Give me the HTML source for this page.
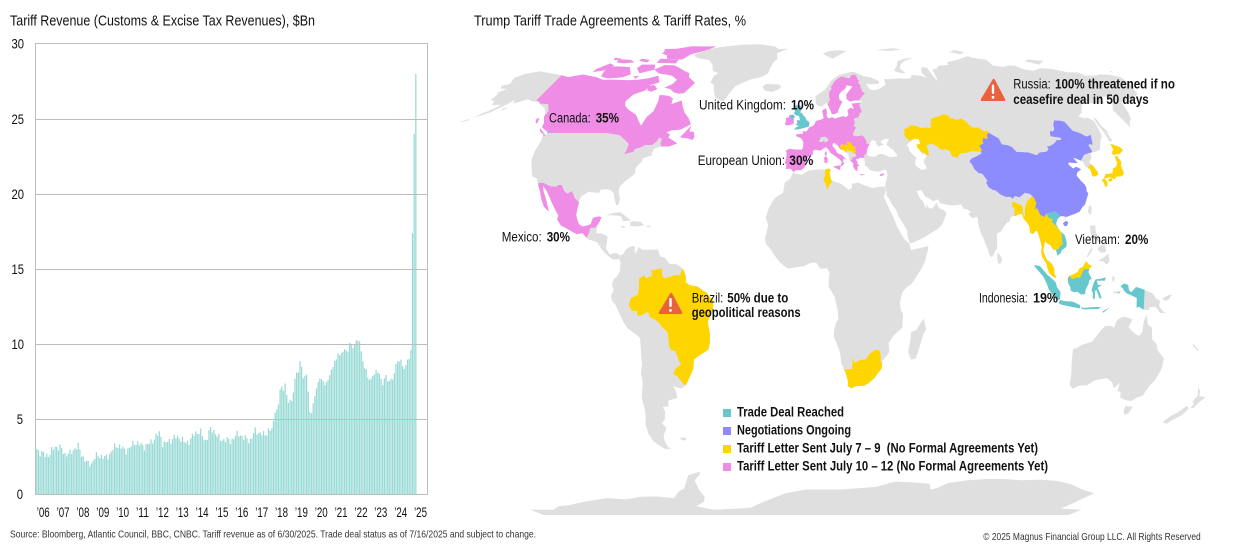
<!DOCTYPE html>
<html><head><meta charset="utf-8">
<style>
html,body{margin:0;padding:0;background:#fff;}
svg{display:block;}
text{font-family:"Liberation Sans Narrow","Liberation Sans",Arial,sans-serif;fill:#111;}
.b{font-weight:bold;}
.ax{fill:#333;font-size:14px;}
.ml{font-size:13.5px;}
.ft{fill:#333;font-size:10.5px;}
</style></head><body>
<svg id="s" width="1234" height="547" viewBox="0 0 1234 547" xmlns="http://www.w3.org/2000/svg">
<defs>
<clipPath id="mapclip"><rect x="460" y="30" width="774" height="485"/></clipPath>
<clipPath id="land"></clipPath>
</defs>
<rect width="1234" height="547" fill="#fff"/>

<!-- LEFT CHART -->
<text x="10" y="25.5" font-size="15" textLength="305" lengthAdjust="spacingAndGlyphs">Tariff Revenue (Customs &amp; Excise Tax Revenues), $Bn</text>
<g id="bars" fill="#98dad5"></g>
<g stroke="#bdbdbd" stroke-width="1" fill="none">
<line x1="35.5" y1="419.5" x2="427.5" y2="419.5"/>
<line x1="35.5" y1="344.5" x2="427.5" y2="344.5"/>
<line x1="35.5" y1="269.5" x2="427.5" y2="269.5"/>
<line x1="35.5" y1="194.5" x2="427.5" y2="194.5"/>
<line x1="35.5" y1="119.5" x2="427.5" y2="119.5"/>
<rect x="35.5" y="43.5" width="392" height="451"/>
</g>
<g class="ax" text-anchor="end">
<text x="24" y="48.5" textLength="12.5" lengthAdjust="spacingAndGlyphs">30</text>
<text x="24" y="124" textLength="12.5" lengthAdjust="spacingAndGlyphs">25</text>
<text x="24" y="199" textLength="12.5" lengthAdjust="spacingAndGlyphs">20</text>
<text x="24" y="274" textLength="12.5" lengthAdjust="spacingAndGlyphs">15</text>
<text x="24" y="349" textLength="12.5" lengthAdjust="spacingAndGlyphs">10</text>
<text x="23" y="424" textLength="6.3" lengthAdjust="spacingAndGlyphs">5</text>
<text x="23" y="499" textLength="6.3" lengthAdjust="spacingAndGlyphs">0</text>
</g>
<g class="ax" text-anchor="middle">
<text x="43.2" y="517" textLength="13" lengthAdjust="spacingAndGlyphs">’06</text>
<text x="63.1" y="517" textLength="13" lengthAdjust="spacingAndGlyphs">’07</text>
<text x="82.9" y="517" textLength="13" lengthAdjust="spacingAndGlyphs">’08</text>
<text x="102.8" y="517" textLength="13" lengthAdjust="spacingAndGlyphs">’09</text>
<text x="122.6" y="517" textLength="13" lengthAdjust="spacingAndGlyphs">’10</text>
<text x="142.5" y="517" textLength="13" lengthAdjust="spacingAndGlyphs">’11</text>
<text x="162.4" y="517" textLength="13" lengthAdjust="spacingAndGlyphs">’12</text>
<text x="182.2" y="517" textLength="13" lengthAdjust="spacingAndGlyphs">’13</text>
<text x="202.1" y="517" textLength="13" lengthAdjust="spacingAndGlyphs">’14</text>
<text x="221.9" y="517" textLength="13" lengthAdjust="spacingAndGlyphs">’15</text>
<text x="241.8" y="517" textLength="13" lengthAdjust="spacingAndGlyphs">’16</text>
<text x="261.7" y="517" textLength="13" lengthAdjust="spacingAndGlyphs">’17</text>
<text x="281.5" y="517" textLength="13" lengthAdjust="spacingAndGlyphs">’18</text>
<text x="301.4" y="517" textLength="13" lengthAdjust="spacingAndGlyphs">’19</text>
<text x="321.2" y="517" textLength="13" lengthAdjust="spacingAndGlyphs">’20</text>
<text x="341.1" y="517" textLength="13" lengthAdjust="spacingAndGlyphs">’21</text>
<text x="361" y="517" textLength="13" lengthAdjust="spacingAndGlyphs">’22</text>
<text x="380.8" y="517" textLength="13" lengthAdjust="spacingAndGlyphs">’23</text>
<text x="400.7" y="517" textLength="13" lengthAdjust="spacingAndGlyphs">’24</text>
<text x="420.5" y="517" textLength="13" lengthAdjust="spacingAndGlyphs">’25</text>
</g>

<!-- MAP -->
<text x="474" y="25.5" font-size="15" textLength="272" lengthAdjust="spacingAndGlyphs">Trump Tariff Trade Agreements &amp; Tariff Rates, %</text>
<g clip-path="url(#mapclip)">
<g id="gland" fill="#dfdfdf"></g>
<g id="gover" clip-path="url(#land)"></g>
<g id="gwater" fill="#ffffff"></g>
</g>

<!-- map labels -->
<g class="ml">
<text x="549" y="122.5" textLength="41.7" lengthAdjust="spacingAndGlyphs">Canada:</text>
<text x="595.7" y="122.5" class="b" textLength="23.3" lengthAdjust="spacingAndGlyphs">35%</text>
<text x="699" y="109.3" textLength="87" lengthAdjust="spacingAndGlyphs">United Kingdom:</text>
<text x="791" y="109.3" class="b" textLength="23" lengthAdjust="spacingAndGlyphs">10%</text>
<text x="697.7" y="165" textLength="87.3" lengthAdjust="spacingAndGlyphs">European Union:</text>
<text x="789.3" y="165" class="b" textLength="24" lengthAdjust="spacingAndGlyphs">30%</text>
<text x="501.7" y="241.7" textLength="40" lengthAdjust="spacingAndGlyphs">Mexico:</text>
<text x="546.7" y="241.7" class="b" textLength="23.3" lengthAdjust="spacingAndGlyphs">30%</text>
<text x="1013.3" y="88.3" textLength="37.4" lengthAdjust="spacingAndGlyphs">Russia:</text>
<text x="1055" y="88.3" class="b" textLength="120" lengthAdjust="spacingAndGlyphs">100% threatened if no</text>
<text x="1013.3" y="103.8" class="b" textLength="135.4" lengthAdjust="spacingAndGlyphs">ceasefire deal in 50 days</text>
<text x="1075" y="244" textLength="45" lengthAdjust="spacingAndGlyphs">Vietnam:</text>
<text x="1125" y="244" class="b" textLength="23.3" lengthAdjust="spacingAndGlyphs">20%</text>
<text x="979" y="302.7" textLength="48.7" lengthAdjust="spacingAndGlyphs">Indonesia:</text>
<text x="1033" y="302.7" class="b" textLength="25" lengthAdjust="spacingAndGlyphs">19%</text>
<text x="691.7" y="302.3" textLength="31.6" lengthAdjust="spacingAndGlyphs">Brazil:</text>
<text x="727.3" y="302.3" class="b" textLength="61" lengthAdjust="spacingAndGlyphs">50% due to</text>
<text x="691.7" y="317" class="b" textLength="109" lengthAdjust="spacingAndGlyphs">geopolitical reasons</text>
</g>

<!-- warning icons -->
<g>
<path d="M993 79 Q994 78 995 80 L1005 99 Q1006 101 1004 101 L982 101 Q980 101 981 99 Z" fill="#e8623e"/>
<rect x="991.8" y="84.5" width="2.4" height="9.5" rx="1" fill="#fff"/>
<circle cx="993" cy="97.3" r="1.4" fill="#fff"/>
<path d="M670.5 293 Q671.5 292 672.5 294 L682 312 Q683 314 681 314 L660 314 Q658 314 659 312 Z" fill="#e8623e"/>
<rect x="669.3" y="298" width="2.4" height="9" rx="1" fill="#fff"/>
<circle cx="670.5" cy="310.4" r="1.4" fill="#fff"/>
</g>

<!-- legend -->
<g class="ml b">
<rect x="723" y="409" width="8" height="8" fill="#66c8cc"/>
<text x="737" y="416.5" textLength="107" lengthAdjust="spacingAndGlyphs">Trade Deal Reached</text>
<rect x="723" y="427" width="8" height="8" fill="#8c8cff"/>
<text x="737" y="434.3" textLength="114" lengthAdjust="spacingAndGlyphs">Negotiations Ongoing</text>
<rect x="723" y="445" width="8" height="8" fill="#ffd500"/>
<text x="737" y="452.5" textLength="301" lengthAdjust="spacingAndGlyphs" xml:space="preserve">Tariff Letter Sent July 7 – 9  (No Formal Agreements Yet)</text>
<rect x="723" y="463" width="8" height="8" fill="#ee8ce6"/>
<text x="737" y="470.5" textLength="311" lengthAdjust="spacingAndGlyphs">Tariff Letter Sent July 10 – 12 (No Formal Agreements Yet)</text>
</g>

<!-- footer -->
<text class="ft" x="10" y="537.5" textLength="526" lengthAdjust="spacingAndGlyphs">Source: Bloomberg, Atlantic Council, BBC, CNBC. Tariff revenue as of 6/30/2025. Trade deal status as of 7/16/2025 and subject to change.</text>
<text class="ft" x="983.3" y="540" textLength="217.4" lengthAdjust="spacingAndGlyphs">© 2025 Magnus Financial Group LLC. All Rights Reserved</text>
</svg>

<script>
(function(){
/* ---------- BARS ---------- */
var K=[36,3.1,40,2.8,45,2.6,50,2.7,55,3.2,60,3.1,65,2.7,70,2.7,75,3.1,78,3.2,82,2.6,85,2.3,88,2.0,92,2.1,95,2.5,100,2.6,105,2.4,110,2.7,113,3.0,117,3.3,120,3.2,125,2.9,130,3.1,135,3.5,140,3.3,145,3.2,150,3.4,155,3.8,160,4.1,163,3.3,170,3.6,175,3.8,180,3.8,185,3.4,190,3.6,195,4.1,200,4.2,205,3.5,210,4.3,215,4.2,220,3.6,225,3.7,230,3.5,235,3.9,240,4.0,245,3.7,250,3.6,255,4.2,260,4.1,265,3.9,268,4.3,272,4.3,
274,5.1,276,5.7,278,5.6,279,6.5,281,7.4,283,6.8,285,7.4,287,6.5,289,5.9,290,6.3,292,6.2,293,6.6,295,7.7,297,8.2,298,8.0,300,8.9,302,8.4,303,7.7,305,7.9,307,8.0,309,6.1,310,5.4,312,5.4,313,6.0,315,6.6,317,7.2,319,7.7,321,7.7,322,7.6,324,7.5,325,7.2,327,7.6,329,7.6,331,8.5,332,8.0,334,8.9,336,8.9,338,9.4,339,9.2,341,9.4,343,9.5,345,9.7,347,9.5,349,9.5,350,10.5,352,9.6,354,9.9,356,10.3,357,10.1,359,10.4,361,9.6,363,8.8,364,8.4,366,8.4,367,7.9,369,7.6,371,7.7,373,7.9,374,7.9,376,8.3,377,8.1,379,8.1,381,7.7,383,7.2,385,8.0,387,7.9,388,7.3,390,7.7,392,7.7,393,7.6,396,8.7,398,8.9,400,8.8,401,9.0,403,8.4,405,8.3,407,9.0,409,8.9,410,9.6,420,9.6];
function kv(x){for(var j=0;j<K.length-2;j+=2){if(x<=K[j+2]){var t=(x-K[j])/(K[j+2]-K[j]);t=Math.max(0,Math.min(1,t));return K[j+1]+(K[j+3]-K[j+1])*t;}}return K[K.length-1];}
var s='',N=230;
for(var i=0;i<N;i++){var x=36.2+i*1.655;var v=kv(x+0.6);if(x<272)v+=0.18*Math.sin(i*2.3)+0.12*Math.sin(i*5.1);
if(i==N-1)v=28;else if(i==N-2)v=24;else if(i==N-3)v=17.4;
var h=v*15.01;s+='<rect x="'+x.toFixed(2)+'" y="'+(494.3-h).toFixed(2)+'" width="1.25" height="'+h.toFixed(2)+'"/>';}
document.getElementById('bars').innerHTML=s;

/* ---------- MAP ---------- */
var PL=[1,.9986,.9954,.99,.9822,.973,.96,.9427,.9216,.8962,.8679,.835,.7986,.7597,.7186,.6732,.6213,.5722,.5322];
var PY=[0,.062,.124,.186,.248,.31,.372,.434,.4958,.5571,.6176,.6769,.7346,.7903,.8435,.8936,.9394,.9761,1];
function it(t,a){a=Math.min(Math.abs(a),90);var k=Math.floor(a/5);if(k>=18)return t[18];var f=(a-5*k)/5;return t[k]+(t[k+1]-t[k])*f;}
function pr(lon,lat){return [806+2.404*it(PL,lat)*lon,282-246*it(PY,lat)*(lat<0?-1:1)];}
function sa(p){var lon=p[0],lat=p[1];if(lon>-45&&lat>-25&&lat<8){var f=lat>-13?0.62:0.62+(-13-lat)/12*0.38;lon=-45+(lon+45)*f;}return [lon,lat];}
function D(pts,adj){return 'M'+pts.map(function(p){if(adj)p=sa(p);var q=pr(p[0],p[1]);return q[0].toFixed(1)+' '+q[1].toFixed(1);}).join('L')+'Z';}

var NA=[[-166,68.9],[-163,70.3],[-156.5,71.3],[-152,70.8],[-145,70.1],[-141,69.7],[-136,69],[-129,70],[-125,69.5],[-120,69],[-115,68],[-108,68],[-100,67.8],[-95,68],[-90,68.5],[-85,69.5],[-82,67],[-86,66],[-87,64],[-92,62.5],[-94,60],[-93,58.5],[-90,57],[-85,55.3],[-82,53],[-80,51.5],[-79,54.5],[-77,56.5],[-77,60],[-78,62.3],[-73,62],[-70,61],[-69.5,59],[-65,60.3],[-63,58],[-61,56],[-58,54],[-56,52],[-60,50.2],[-64.5,49.9],[-66.5,49.2],[-64.5,48.5],[-65,47.5],[-61,46],[-60,45.5],[-63.5,44.5],[-66,44.5],[-67,44.5],[-70,43.8],[-70.5,42],[-70,41.6],[-74,40.5],[-74,39.5],[-75.5,38],[-76,37],[-75.6,35.5],[-77,34.5],[-79,33.2],[-81,31.5],[-81.2,30],[-80,27],[-80.3,25.3],[-81.2,25.2],[-82.5,27.5],[-83,29],[-84.5,30],[-86,30.4],[-89,30.3],[-89.5,29.2],[-91,29.3],[-94,29.6],[-97,28],[-97.3,26],[-97.5,24.5],[-97.7,22],[-97,20.5],[-96,19],[-94.5,18.2],[-92,18.6],[-91,19],[-90.4,21],[-88,21.5],[-86.8,21.2],[-87.5,19.5],[-88.3,18.5],[-88.2,16],[-86,15.9],[-83.3,15],[-83.5,12.5],[-83.7,11],[-82,9],[-79.5,9.6],[-77.4,8.7],[-78,7.5],[-80,7.3],[-81.7,8],[-84,9.5],[-85.7,11],[-87.5,13],[-89.5,13.5],[-91.5,14],[-92.2,14.5],[-94,16],[-96.5,15.7],[-99,16.7],[-101.5,17.8],[-103.5,18.5],[-105.5,20.5],[-105.2,21.8],[-106.5,23.2],[-108.5,25.5],[-110.5,27.8],[-112.5,30],[-114.7,31.6],[-113.5,29.5],[-112,27.5],[-110,24],[-109.5,23.1],[-110.3,23.5],[-112.1,24.8],[-114,27.5],[-115,29.5],[-116.6,31.5],[-117.1,32.5],[-118.5,34],[-120.6,34.6],[-122.5,37.5],[-124,40.3],[-124.4,43],[-124,46.3],[-124.7,48.4],[-123,48.3],[-123.5,49.5],[-125,50],[-127.5,51],[-128,52.5],[-130,54.5],[-130.5,55.5],[-133,57.5],[-136,58.5],[-139.5,59.8],[-143,60],[-146,60.8],[-149,59.8],[-151.5,59.3],[-152.5,60.5],[-154,59],[-156.5,57.5],[-159,56],[-162,55],[-164.8,54.4],[-161,56.3],[-158,57.9],[-157.3,58.8],[-161.8,58.7],[-162.3,60],[-165,60.5],[-164.5,62.5],[-166,63],[-163,64.5],[-166.5,64.7],[-168.1,65.6],[-164.5,66.5],[-166,68]];
var GRL=[[-73,78.3],[-66,81],[-60,82],[-45,83.5],[-32,83.6],[-22,82.5],[-18,81],[-12,81.3],[-19,79],[-18,76.5],[-20,75],[-21.5,72.5],[-22,70.5],[-25,69.2],[-32,68],[-39,65.5],[-41,63],[-43,60],[-45,60.3],[-48,61.5],[-50,64],[-51,66],[-53.5,67],[-53,69.5],[-51,70.5],[-55,71.5],[-57,74],[-61,76],[-67,76.5],[-71,77.4]];
var ICE=[[-22.5,64],[-24,65.4],[-22,66.4],[-18,66.2],[-15,66.3],[-13.5,65.2],[-15,64.3],[-18.5,63.4],[-21.5,63.8]];
var CANISL=[
[[-80,73.7],[-76,72.7],[-72,71.5],[-68,70.5],[-67,69],[-62,66.8],[-63.5,65],[-65.5,63],[-68,62.8],[-71,63.2],[-74,64.5],[-77.5,65],[-74,66.5],[-73,68],[-77,69.5],[-81,70],[-86,70.5],[-90,72],[-86,73.8]],
[[-118,73],[-114,73.3],[-106,73],[-101.5,70],[-105,68.9],[-113,68.5],[-117.5,69.2],[-119,71.5]],
[[-125,72.2],[-120,74.5],[-116,73.5],[-120,71.5],[-125,71]],
[[-92,80.5],[-80,82.5],[-62,82.5],[-68,80],[-75,78.5],[-78,76.2],[-88,76.5],[-90,78],[-95,79]],
[[-92,76.5],[-80,76.2],[-80,74.5],[-92,74.8]],
[[-118,76.3],[-110,76],[-106,75],[-112,74.5],[-117,75]],
[[-104,76.5],[-98,76],[-98,75],[-104,75.5]],
[[-122,77],[-116,76.5],[-120,75.8]],
[[-100,74],[-92,74],[-90,72],[-97,70.5],[-101,72.5]],
[[-87,65.5],[-84,66],[-81,64.5],[-83.5,63.5],[-86,64]],
[[-96,81],[-86,81.2],[-86,78.5],[-93,78.5]],
[[-99,69.3],[-96,69.5],[-97,68.3]],
[[-59.4,47.6],[-55.5,51.6],[-55.8,49.5],[-53.5,49.4],[-52.7,47.6],[-53.2,46.7],[-55.8,47.2],[-59,47.5]],
[[-128.4,50.8],[-123.5,48.3],[-124.8,48.6],[-127,49.5]],
[[-133,54],[-131.7,54],[-131.2,52.2],[-132.5,52.8]]
];
var SA=[[-77.4,8.7],[-76,9.4],[-75.5,10.6],[-74.2,11.3],[-72.2,11.9],[-71.5,11.3],[-71.7,10.4],[-71.3,9.2],[-70,11.4],[-68.2,10.6],[-66,10.6],[-64,10.6],[-62,10.7],[-60.9,8.5],[-59,8],[-57,6],[-54,5.8],[-52,4.8],[-51,4],[-50,1.8],[-50,0],[-48.5,-1],[-45,-1.5],[-42,-2.7],[-39,-3.5],[-37,-5],[-35.2,-5.5],[-34.8,-7.5],[-35.2,-9],[-37,-11],[-38.8,-13],[-39,-17],[-39.7,-19.5],[-41,-22],[-43,-23],[-45,-23.8],[-48,-25.5],[-48.6,-28.5],[-50.5,-31],[-52.5,-33.5],[-53.5,-34.2],[-55,-34.9],[-57,-34.6],[-58.5,-34],[-57.5,-36],[-57.6,-38],[-62,-39],[-62.3,-40.8],[-65,-41],[-64.5,-42.5],[-65.5,-45],[-67.5,-46.5],[-66,-48],[-68.5,-50.5],[-69,-52.3],[-68.5,-54.5],[-67,-55],[-70,-55.2],[-72,-54.2],[-74.5,-52.5],[-75.5,-50],[-75.3,-46.5],[-74,-44],[-73.5,-41.5],[-73.5,-38],[-71.5,-33],[-71.5,-30],[-70.5,-27],[-70.3,-23.5],[-70.1,-18.5],[-71.5,-17.3],[-75,-15.2],[-76.3,-13.5],[-78,-10.5],[-79.5,-7.5],[-81,-6],[-81.2,-4.5],[-80,-2.5],[-80.8,-1],[-80,1],[-78.9,1.5],[-77.5,3.5],[-77.3,6.5],[-77.9,7.2]];
var AFR=[[-17.1,21],[-16,24],[-14.5,26.2],[-13,27.8],[-10,29.2],[-9.7,30.5],[-9.3,32.5],[-6.8,34],[-5.9,35.8],[-2,35.1],[1,36.5],[4,36.9],[8.6,36.9],[10.2,37.2],[11,36.8],[10.5,35.6],[11.1,33.3],[13,32.8],[15.3,32.2],[18.5,30.2],[20,30.9],[20,32.2],[23,32.6],[25,31.8],[29,30.8],[32.2,31.2],[34.2,31.3],[34.5,29.5],[33.5,28],[35.5,24],[37.2,21],[38.5,18],[40,15.8],[41.5,13.8],[43.3,12.6],[44,10.5],[51.2,11.8],[51,10.5],[49.5,6.5],[47.8,4],[44,-0.5],[41.5,-2],[40,-3.5],[39.2,-6.5],[39.5,-9],[40.5,-10.5],[40.5,-15],[37,-17.5],[35,-20],[35.5,-23],[32.9,-25.7],[32.6,-28.5],[31,-30],[30,-31.3],[27.5,-33.2],[25.6,-34],[22,-34.2],[20,-34.8],[18.4,-34.1],[18.3,-32.5],[17.3,-30],[15.2,-26.8],[14.5,-23],[13.4,-20.9],[11.8,-18],[11.8,-16],[12.5,-13.5],[13.6,-12],[13.2,-9],[12.2,-6],[12,-5],[9.4,-1.5],[9.5,1],[9.8,3],[8.8,4.5],[6,4.3],[4.3,6.3],[2,6.3],[-1,5.1],[-3,5],[-7.5,4.4],[-9.5,5.5],[-11.4,6.9],[-13.2,8.8],[-15,11],[-16.8,12.5],[-17.2,14.5],[-16.5,16.5],[-16,18.5],[-16.5,20]];
var MAD=[[49.3,-12],[50.5,-15.5],[49.5,-17],[48,-22],[47,-25],[45,-25.5],[43.5,-23],[44,-20],[44.3,-16.5],[46.5,-15.7],[48,-13.5]];
var EUR=[[-5.6,36],[-6.3,36.8],[-7.4,37.2],[-8.9,37],[-8.8,38.7],[-9.5,38.8],[-8.9,41],[-8.9,42.5],[-9.3,43],[-8,43.7],[-5,43.5],[-1.8,43.4],[-1.3,44.5],[-1.2,46],[-2.2,47.2],[-4.5,47.9],[-4.7,48.6],[-1.6,48.7],[-1.4,49.7],[0.2,49.5],[1.6,50.9],[3,51.3],[4.2,52],[4.8,53.1],[7,53.5],[8.7,54],[8.5,55.5],[8.1,56.7],[10.3,57.6],[10.5,56.2],[10.2,55],[11,54],[13,54.4],[14.3,53.9],[16,54.3],[18.5,54.8],[19.8,54.4],[21.2,55.2],[21,56.8],[22.5,57.7],[24.3,57.3],[24,58.4],[23.4,59.2],[28,59.5],[29.5,60],[26,60.4],[23,59.9],[21.3,60.8],[21.5,62.5],[25,65],[25.3,65.5],[22.5,65.9],[21.3,64.6],[19,63.5],[17.5,62.3],[17.5,60.6],[19,59.8],[18,58.9],[16.5,57],[16,56.1],[14.3,55.5],[12.9,55.4],[12.6,56.3],[11.7,58],[11,59],[10.5,59.5],[8,58.1],[5.5,58.8],[5,60],[5,61.9],[7,62.7],[10,64],[12.5,66],[14,67.5],[16,68.5],[19,69.8],[22,70.2],[26,71],[28.5,70.9],[31,70],[33,69.3],[36.5,69],[41,67.5],[40.5,66.5],[35,66.2],[33.5,66.7],[34.5,64.5],[37,64],[40,64.6],[44,66],[44.3,68.3],[46,68.2],[53,68.5],[55,68.4],[59.5,68.5],[61,69.8],[66,69.5],[69,68.7],[67.5,70.8],[69.5,73],[72.5,72.7],[72.8,70],[73.8,67.5],[74.5,68.5],[75,72],[78,72.4],[80.5,73.6],[86.8,73.9],[87,75],[95,76],[101,77.1],[104,77.7],[106,77],[113,76],[113.5,73.6],[119,73.1],[123,73.7],[127,73.5],[129,72.2],[134,71.5],[140,72.5],[146,72.3],[150,71.6],[153,70.9],[159,70.8],[161,69.5],[167,69.6],[170,70.1],[176,69.8],[180,68.9],[180,65],[178.5,64.5],[177,62.5],[173,61.5],[170,60],[166,60],[164,59.9],[163,58],[162,56],[160,53.5],[158.5,52.9],[156.7,51],[156,53.5],[155.5,57],[157,58],[160,60.5],[159,61.8],[156,61.5],[154,59.2],[151,59.2],[145,59.4],[142,58.8],[138.5,56],[135.5,54.8],[137.5,54],[139.5,54.2],[141.4,53],[140.5,50],[140,48],[138,46.5],[135.3,43.5],[133,42.8],[131,42.6],[130,42.3],[129.5,40.8],[128,39.8],[127.4,39.2],[128.5,38],[129.4,36],[129,35.1],[127,34.6],[126.3,34.6],[126.5,37],[125,37.8],[124.6,39.6],[122,40.5],[121,40.8],[122,39.2],[121.5,39],[118,39.2],[117.7,38.5],[119,37.2],[120.8,37.8],[122.5,37],[120.3,36],[119.3,34.9],[120.6,33],[121.6,32],[121.9,30.9],[121.5,29.8],[122,29],[120.5,27],[119.5,25.5],[118,24.5],[116.5,23],[114.2,22.3],[112,21.7],[110.4,21.2],[110.1,20.3],[109.6,21.6],[108,21.5],[106.7,20.7],[105.7,19],[106.5,17.5],[107.5,16.3],[108.8,15.3],[109.3,13],[109,11.5],[107,10.5],[106.4,9.5],[105,8.6],[104.8,9.6],[104.5,10.4],[103.2,10.8],[102.5,12],[100.9,12.8],[100.3,13.4],[99.2,10.2],[100.3,7.5],[101.3,6.8],[102.2,6.2],[103.4,4.5],[103.4,2.8],[104.2,1.4],[103.5,1.3],[102,2.3],[101.3,2.9],[100.6,4.4],[100.3,5.8],[98.5,8.3],[98.3,9.9],[98.7,11.5],[98.3,13.5],[97.7,15.9],[97.2,16.9],[95.4,15.7],[94.4,16.2],[94.3,18.2],[93.5,19.6],[92.3,20.7],[91.8,22.4],[90.5,22.2],[89.2,21.7],[88,21.6],[86.9,21.2],[86.5,20],[84.8,19.3],[82.2,16.6],[80.3,15.8],[80.2,13.5],[79.9,11],[79.2,10.3],[78.3,8.9],[77.5,8.1],[76.6,8.9],[76,10.9],[75.3,12.3],[74.4,14.6],[73.4,16.5],[72.8,19.2],[72.9,20.7],[72.6,21.4],[72.3,21.3],[70.5,20.9],[69,22.3],[70.3,22.9],[68.8,23.8],[67.4,23.9],[66.4,25.4],[64.5,25.2],[61.5,25.1],[58.5,25.6],[57.3,25.8],[56.8,27.1],[54.7,26.5],[52.5,27.6],[51.5,27.9],[50,30.2],[48.5,29.9],[48,29.9],[48.4,28.5],[49.3,27.1],[50.1,26.7],[50.8,24.8],[51.6,24.3],[51.6,25.8],[52.5,24.2],[54,24.1],[56,26.1],[56.4,24.9],[57.4,23.9],[58.7,23.6],[59.8,22.4],[58.5,20.4],[57.7,19],[56.3,17.9],[55.3,17.2],[52.2,15.9],[49.5,14.6],[48,14],[45,12.9],[43.5,12.7],[42.6,15.2],[42.8,16.5],[41.2,19],[40,20.5],[39.1,21.8],[38.5,23.6],[37.2,25],[35.1,28.1],[34.6,28.1],[34.9,29.5],[34.3,31.2],[34.5,31.5],[35,32.8],[35.9,35],[35.8,36.6],[34.6,36.8],[32.5,36.1],[30.5,36.3],[28.5,36.7],[27.3,37.7],[26.3,38.3],[26.6,39.4],[26.2,40.1],[26.6,40.6],[26,40.8],[24,40.7],[23.7,40.2],[22.8,40.5],[22.6,40],[23.3,39.2],[22.9,38.9],[24,38.2],[23,37.9],[22.9,36.5],[22.4,36.5],[21.7,36.9],[21.1,37.8],[21.3,38.9],[20.2,39.6],[19.4,40.3],[19.4,41.8],[18.5,42.5],[17,43.3],[15.9,43.6],[15.1,44.3],[14.3,45.2],[13.6,45.1],[13.7,45.7],[12.4,45.4],[12.3,44.6],[13.6,43.5],[14.1,42.5],[15.2,41.9],[16.1,41.8],[17.5,40.8],[18.5,40.1],[17,40.5],[16.6,39.4],[17.2,38.9],[16.1,38],[15.6,38.2],[16.1,39.4],[15.4,40.1],[14.1,40.8],[12.3,41.8],[11.2,42.4],[10.3,43.5],[9.3,44.3],[8.2,43.9],[6.5,43.1],[4.5,43.4],[3.1,43.1],[3.2,41.9],[0.9,41],[-0.3,39.5],[0.2,38.7],[-0.7,37.6],[-2.1,36.7],[-4.4,36.7]];
var GB=[[-5.7,50.1],[-3.5,50.3],[-1,50.7],[1.4,51.2],[1.7,52.7],[0.3,53.4],[-0.2,54.2],[-1.5,55.2],[-2,55.9],[-3,56],[-2,57.5],[-3.1,58.6],[-5,58.6],[-5.8,57.8],[-5.6,56.5],[-6,55.7],[-4.9,55],[-3.5,54.9],[-3.2,54.2],[-3,53.4],[-4.6,53.3],[-4.2,52.3],[-5.2,51.8],[-3.2,51.4],[-4.6,51.1]];
var IRL=[[-6,52.2],[-6.1,53.3],[-6,54],[-5.5,54.5],[-6,55.2],[-7.3,55.3],[-8.4,55],[-8.5,54.3],[-10,54.2],[-9.8,53.4],[-10.2,52],[-9.5,51.6],[-8,51.7]];
var SMALL=[
[[12.4,37.9],[15.6,38.3],[15.1,36.7],[14.3,37],[12.5,37.6]],
[[8.4,39],[9.6,39.1],[9.8,40.5],[9.2,41.2],[8.2,40.9]],
[[8.6,41.4],[9.4,41.6],[9.5,43],[8.6,42.4]],
[[23.5,35.3],[26.3,35.2],[24.5,34.95]],
[[2.3,39.5],[3.3,39.9],[3.4,39.4],[2.6,39.3]],
[[11,78.8],[16,80],[22,80.4],[27,80],[22,78.3],[17,76.6],[14,77.5]],
[[52,71.5],[55,70.6],[58,70.6],[56,72.5],[58,74.2],[61,75.5],[66,76.5],[68,77],[62,76.5],[57,75.5],[55,73.5],[52.5,72]],
[[47,80.5],[60,81.5],[64,80.6],[55,80]],
[[95,79.5],[100,80.5],[105,79.5],[101,78.5]],
[[136,75.5],[140,76.2],[148,75.5],[142,74]],
[[178.5,71.2],[180,71.5],[180,70.8]],
[[142,46],[143.5,46.5],[143.4,49.5],[144.5,49],[143,51.5],[143.2,54],[142.4,54.3],[141.8,52],[142.1,48.5],[141.9,46.5]],
[[120.1,23],[121.1,25.1],[121.9,24.9],[121.7,23.1],[120.8,21.9]],
[[79.8,8],[80,9.8],[81.2,8.6],[81.8,7.3],[81.2,6.2],[80.1,6]],
[[120,18.5],[122.2,18.5],[122,16.3],[124,13],[122.8,13.1],[121.5,13.8],[120.6,14.3],[119.8,16.3]],
[[122,7],[124.5,8.2],[126.3,9.3],[126.6,7],[125.4,5.6],[124,6.7]],
[[122.5,11.5],[125,12.5],[125.5,10],[123.5,9.5],[122,10.5]],
[[117.2,8.4],[119.5,11.3],[119.8,10.5],[117.6,8.2]],
[[148.3,-5.5],[151,-4.3],[152.3,-4.2],[151.5,-5.5],[150,-6.2]],
[[164,-20.2],[167,-22.3],[166.5,-22.5],[164,-20.8]],
[[-61.3,-51.3],[-58,-51.3],[-58.5,-52.2],[-60.5,-52.2]],
[[-176,51.8],[-174,52.2],[-172,52.3],[-170,52.8],[-168,53.3],[-166,53.8],[-166,53.4],[-170,52.5],[-174,51.9],[-176.5,51.6]],
[[-154.5,57.3],[-152.3,58],[-153,57],[-154.3,56.6]],
[[-85,21.8],[-82,22.7],[-79,22.9],[-77,21.8],[-74.2,20.2],[-77.5,19.9],[-78.5,21.5],[-81,21.8],[-83,21.9]],
[[-74.4,19.8],[-72.8,19.9],[-70,19.7],[-68.4,18.6],[-71,18.2],[-74.4,18.4]],
[[-78.3,18.4],[-76.2,18.2],[-76.8,17.8],[-77.8,17.9]],
[[-67.2,18.5],[-65.6,18.4],[-65.8,18],[-67.2,18]],
[[144.6,-40.7],[148.3,-40.9],[148,-43.2],[146.5,-43.6],[145.2,-42.2]],
[[172.7,-34.4],[174.5,-35.8],[175.5,-37.5],[178.5,-37.7],[177,-39.5],[176.3,-41.3],[174.8,-41.4],[175,-39.9],[173.8,-39.2],[174.6,-37.2]],
[[172.6,-40.5],[174.3,-41.7],[173,-43.8],[171,-44.9],[169,-46.6],[166.5,-46],[168.3,-44],[170.5,-42.8]],
[[127.5,2],[128.5,1.5],[128,0],[127.4,0.5]],
[[128,-3],[131,-3.2],[130,-3.8],[128,-3.6]]
];
var JPN=[[[130.9,34],[132.5,35.4],[135.5,35.6],[136.8,37.2],[138.5,37.8],[139.8,38.9],[140,40.5],[140.3,41.3],[141.5,41.3],[142,39.5],[141,38.2],[140.9,36.8],[140.5,35.3],[139.8,35],[138.8,34.6],[137,34.6],[135.2,33.5],[134.7,34.2],[133,34.3],[131.5,33.9]],
[[140,41.5],[141.2,41.8],[143.2,42],[145.8,43.3],[145.2,44.3],[141.7,45.5],[141.3,43.4],[139.8,42.4]],
[[129.6,33.2],[130.9,34],[132,33],[131.3,31.4],[130.2,31.2],[130.2,32.7]],
[[132.4,33.6],[134.7,34.2],[134.3,33.2],[133,32.8]]];
var HAI=[[108.6,19.2],[110.2,20.1],[111,19.6],[110.3,18.4],[109.2,18.3]];
var CYP=[[32.3,34.7],[34,34.9],[34.6,35.7],[33,35.4]];
var IDN=[
[[95.2,5.6],[97.5,5.2],[100.3,2.5],[101.5,1.7],[103.8,0],[104.5,-1.7],[106,-3.3],[105.8,-5.8],[104.5,-5.9],[102.3,-4],[101,-2.3],[100.2,-0.6],[98.8,1.7],[97.1,3.3],[95.3,5]],
[[105.2,-6.8],[106,-5.9],[108.3,-6.3],[111,-6.4],[112.6,-6.9],[114.5,-7.6],[114.4,-8.7],[111,-8.2],[108.6,-7.8],[106.4,-7.4]],
[[115,-8.2],[116,-8.5],[119,-8.3],[121,-8.2],[123,-8.2],[122,-8.9],[119,-8.9],[116.5,-9],[115,-8.8]],
[[124,-9.5],[127,-8.3],[125,-9.5],[124,-10.2]],
[[108.9,1.2],[109.6,2],[111.2,2.5],[113,3.2],[114,4.5],[115.4,5],[116.8,6.9],[117.7,5.8],[119.2,5.3],[118,4.3],[117.6,3.2],[118.9,1],[118,0.7],[117.5,-0.8],[116.5,-2.3],[116.2,-4],[114.6,-4.1],[113,-3.2],[111.7,-3.4],[110.2,-2.9],[110,-1.7],[109.1,-0.5]],
[[119.5,-5.5],[119.4,-3.5],[118.8,-2.7],[119.8,0],[120.5,0.9],[122.5,1],[124.8,1.6],[124.3,0.4],[121,0.4],[121.5,-1],[123.3,-0.9],[121.4,-1.9],[122.5,-3.7],[123.2,-5.4],[122.2,-5.3],[121,-2.7],[120.4,-2.9],[120.4,-5.5]]
];
var NG=[[131,-1.2],[132.5,-0.4],[134,-0.9],[134.5,-2.8],[135.5,-3.3],[137.5,-1.5],[141,-2.6],[144.5,-3.8],[145.8,-5.4],[147.6,-6.1],[147.3,-7.8],[149,-9.5],[150.5,-10.3],[148,-10.1],[146,-8.1],[143.5,-8.3],[143,-9.2],[141,-9.1],[139,-8.1],[138,-8.4],[137.8,-5.2],[135.5,-4.4],[133.5,-3.7],[132.3,-2.8],[132,-2.2],[131,-1.5]];
var AUS=[[113.5,-22],[114,-26.5],[115,-30],[115.7,-33.5],[117.5,-35],[120,-34],[123.5,-33.9],[126,-32.3],[131,-31.5],[134,-32.8],[135.7,-34.8],[137.5,-33],[137.8,-35.6],[139.6,-36.2],[140.5,-37.9],[143.5,-38.8],[146.3,-39],[148.2,-37.8],[150,-37.3],[150.8,-34.5],[152.5,-32],[153.5,-28.2],[153,-25],[151,-23.5],[149.5,-22.3],[148.7,-20.5],[146.3,-18.8],[145.4,-15],[143.5,-14],[142.5,-10.7],[141.6,-12.9],[141.6,-16.5],[140.5,-17.6],[139.2,-17.3],[137,-15.9],[135.5,-14.8],[136.8,-12.2],[133,-11.3],[131,-12.1],[130,-13],[129.5,-15],[127.8,-14.3],[125.5,-14.5],[123.5,-16.5],[122.2,-18.2],[121,-19.6],[117,-20.6],[114.6,-21.8]];
var ANT=[[-180,-90],[-180,-78.5],[-165,-78.5],[-158,-77],[-150,-76.5],[-140,-75.3],[-130,-74.3],[-120,-73.5],[-110,-74],[-100,-73],[-90,-72.8],[-80,-73.5],[-75,-71],[-70,-69.5],[-67,-67],[-64,-64.5],[-57,-63.3],[-58,-64.5],[-62,-66.5],[-62,-70],[-61,-73],[-63,-75],[-70,-77],[-60,-78.5],[-45,-78],[-35,-77.5],[-30,-76],[-20,-73.5],[-12,-71.5],[0,-70],[10,-70],[20,-70],[30,-69.5],[40,-69],[50,-67],[60,-67.3],[70,-67.8],[72,-70],[75,-69.5],[80,-67.5],[90,-66.5],[100,-66],[110,-66],[120,-66.5],[130,-66.2],[140,-66.7],[150,-68],[160,-70],[170,-71.5],[167,-75],[165,-78],[180,-78.5],[180,-90]];

/* overlays */
var CAN=[[-141,69.7],[-141,74],[-125,78],[-100,83],[-75,83.5],[-72,80],[-77,77.5],[-74,75],[-65,72],[-60,68.5],[-59,65],[-57,60],[-52,52],[-52,46],[-57,46],[-60,44.5],[-66,43.3],[-67,44.5],[-67.8,45.6],[-67.8,47.1],[-69.2,47.4],[-70,46],[-71.5,45],[-74.7,45],[-76.5,44.2],[-79.2,43.5],[-79,42.8],[-83,42],[-82.5,43],[-82.4,45.3],[-84.5,46.5],[-88.4,48.3],[-95,49],[-123,49],[-123.3,48.2],[-126,48],[-134,52],[-133,54.5],[-130.5,54.7],[-130,55.7],[-130,56.5],[-133,59],[-137.5,59.2],[-139,60],[-141,60.3]];
var MEX=[[-117.1,32.5],[-114.8,32.5],[-111,31.3],[-108.2,31.3],[-108.2,31.8],[-106.5,31.8],[-104.5,29.6],[-103,29],[-101.4,29.8],[-99.5,27.5],[-97.1,25.9],[-95,25],[-90,23],[-86,22],[-87.5,18.5],[-88.3,18.5],[-89.1,17.8],[-91,17.8],[-91.4,16],[-92.2,14.5],[-93,13],[-118,18],[-120,30]];
var BRA=[[-73.9,-7.4],[-72.9,-9.4],[-70.5,-9.5],[-70.6,-11],[-69,-11],[-66,-9.8],[-65.3,-11.5],[-63,-12.5],[-61.5,-13.5],[-60.3,-15],[-58.3,-16.3],[-58.1,-20.2],[-57.8,-22.1],[-55.5,-22.7],[-54.6,-25.5],[-53.8,-27.1],[-56,-28.1],[-57.6,-30.2],[-56,-30.9],[-53.4,-33.7],[-52,-34.5],[-45,-26],[-38,-20],[-33,-8],[-34,-2],[-45,1],[-50,4.5],[-51.6,4.2],[-52.5,2.3],[-54.5,2.3],[-56,1.9],[-57.5,1.5],[-59,1.3],[-59.8,1.9],[-60,4.5],[-61.5,4.2],[-62.8,4],[-64.5,3.8],[-64,2],[-66.8,1.2],[-67.3,2.2],[-69.5,1.1],[-69.4,-1.3],[-70,-4.2],[-72.9,-5.2]];
var EU=[[-10,35.5],[-11,44],[-11,56],[-2,60],[5,62],[14,70],[28,71.5],[29,69.5],[28.9,69],[29.3,68],[30,67.7],[29.1,66.9],[30.1,65.7],[29.7,64.8],[30.5,64.2],[30,63.8],[31.5,62.9],[27.8,60.5],[28.2,59.4],[27.4,58.8],[27.7,57.8],[28.2,56.2],[26.6,55.7],[26.8,55.2],[25.7,54.3],[23.5,53.9],[23.9,53],[23.6,52.1],[23.2,51.5],[24.1,50.8],[23.5,50.3],[22.6,49.1],[22.2,48.4],[22.9,48],[24,47.9],[26.6,48.2],[27.5,47.5],[28.2,46.5],[28.2,45.5],[29.7,45.2],[30.5,44.5],[28.5,42],[28,42],[26.3,41.7],[26.6,41.3],[26.4,40.8],[26,40.6],[25.6,40],[25.8,39.7],[26,38.6],[26.8,37.6],[27.2,36.4],[28.4,35.9],[26.5,34.5],[22,35],[20.5,37],[19.6,39.6],[20,39.7],[20.7,40.1],[21,40.8],[22.7,41.2],[23,41.3],[22.4,42.3],[22.9,42.9],[22.5,43.5],[22.8,44],[22.5,44.5],[21.4,44.8],[21.4,45.2],[20.3,46.1],[19.1,45.9],[19,45.5],[19.4,45],[19,44.9],[18,45.1],[16.5,45.2],[15.8,44.8],[15.8,44.2],[16.5,43.5],[17.6,43],[18.5,42.5],[18.5,42.3],[18.6,41],[18.8,39.5],[19,37.5],[16,35.5],[12,35.5],[11.5,37.5],[9,38.5],[7,38.5],[4,39.5],[1,38],[-2,36.2],[-5.5,35.97],[-6.5,36.3]];
var NOR=[[11.4,58.9],[11.8,59.8],[12.6,60.5],[12.2,61.7],[12.5,63.5],[14,64.5],[13.6,65.3],[14.6,66],[15.8,67.2],[17.8,68.3],[20,69.1],[21,69.2],[23,68.7],[24.9,68.6],[26,69.7],[27.9,70],[29,69.5],[31,70.2],[30,72],[15,71],[4,62],[4,57.5],[8,57.5]];
var SUI=[[6,46.2],[6.9,47.5],[8.6,47.8],[9.6,47.5],[10.5,46.9],[10.1,46.2],[9,45.8],[8.4,46.3],[7,45.9]];
var BOS=[[15.8,44.8],[16.5,45.2],[18,45.1],[19,44.9],[19.4,45],[19,45.5],[19.1,45.9],[20.3,46.1],[21.4,45.2],[21.4,44.8],[22.5,44.5],[22.8,44],[22.5,43.5],[22.9,42.9],[22.4,42.3],[21.6,42.3],[21,43],[20.3,42.9],[19.5,43.1],[18.8,43.3],[18.6,42.6],[18.5,42.5],[17.6,43],[16.5,43.5],[15.8,44.2]];
var NI=[[-5.4,54.3],[-5.5,55.5],[-7.3,55.4],[-7.3,55],[-8.1,54.5],[-7,54.1],[-6.2,54]];
var KAZ=[[53,42.7],[56,41.3],[56,45],[58.5,45.5],[61,44.4],[62,43.5],[64.5,43.6],[66,42.9],[66.5,41.1],[68,41.1],[68.6,40.6],[69.3,41.5],[70.5,42],[71,42.3],[73.5,42.4],[75,42.8],[77,43],[79,42.8],[80.2,42.9],[80.8,43.2],[80.4,44.9],[82.5,45.4],[83,47.2],[85.5,47.1],[85.7,48.5],[87.3,49.1],[86.8,49.8],[85.2,49.6],[84,50.3],[83,51],[81.5,50.8],[80,51],[77.9,53.3],[76.5,54],[74.5,53.5],[73.8,53.6],[73,54],[71.2,54.1],[70.8,55.1],[69,55.4],[68,55.2],[65,54.6],[62,53.9],[61,53],[61.5,52.5],[60,51.9],[61,51.5],[59.5,50.6],[57.5,51],[55.7,50.6],[53,51.5],[50.7,51.6],[48.5,50.6],[46.8,50.1],[47.1,49.2],[46.5,48.4],[47,47.5],[48.5,46.5],[50,46.5],[51.5,45],[51,44],[52.5,42.5]];
var SEA=[[88.1,21.6],[88.8,22.3],[89,24.2],[88.2,24.6],[88.4,26.3],[89.5,26.1],[92.2,25.1],[92.5,24],[92.2,23],[92.6,21.3],[93.2,22.3],[93.4,24],[94.2,25.5],[95.2,26.7],[96.5,27.5],[97.5,28.3],[98.2,27.5],[98.7,25.9],[97.7,24],[98.8,24.1],[99.5,22.1],[101.2,21.3],[102.2,22.4],[103,21],[104.6,20.7],[104,19.8],[105.2,18.8],[106.5,17.4],[107.4,16.3],[107.6,15],[107.5,14.5],[107.5,13],[107.6,12.3],[106.4,11.8],[105.9,11],[104.8,10.5],[104.5,10.4],[103,9.5],[103.5,6.5],[104.8,2],[104.3,1.2],[103.5,1.5],[101.5,2.3],[100.3,3.5],[99.5,6],[97.5,8.5],[97.2,14],[96,15.5],[94,15.5],[93.5,19],[91.5,21.5],[89,21]];
var VNM=[[102.2,22.4],[103.5,22.7],[104.5,22.8],[105.5,23.2],[106.7,22.8],[107.9,21.6],[108.5,21],[107.5,19],[109,17],[110,13],[109.5,10.5],[107,8.5],[104.5,8],[104,9],[104.5,10.4],[104.8,10.5],[105.9,11],[106.4,11.8],[107.6,12.3],[107.5,13],[107.5,14.5],[107.6,15],[107.4,16.3],[106.5,17.4],[105.2,18.8],[104,19.8],[104.6,20.7],[103,21]];
var CHN=[[108,21.5],[106.7,22.8],[105.5,23.2],[104.5,22.8],[103.5,22.7],[102.2,22.4],[101.2,21.3],[99.5,22.1],[98.8,24.1],[97.7,24],[98.7,25.9],[98.2,27.5],[97.5,28.3],[96.5,28.9],[94.5,29.2],[92,27.8],[90,28.2],[88.9,27.3],[88.1,27.9],[86,27.9],[84,28.7],[82,30.1],[81,30.2],[79.5,31],[78.8,32.5],[79.5,33.2],[78,35.5],[76.5,35.7],[75,37],[74.5,38.5],[73.6,39.5],[74.9,40.5],[76.8,41],[78.5,41.6],[80.2,42.2],[80.2,42.9],[80.8,43.2],[80.4,44.9],[82.5,45.4],[83,47.2],[85.5,47.1],[85.7,48.5],[87.3,49.1],[88,48.6],[90.7,47.2],[90.9,46],[91,45.2],[93.5,44.9],[95.3,44.3],[96.4,42.7],[100,42.6],[101.8,42.5],[105,41.6],[107,42.5],[110.4,42.8],[111.8,43.7],[111.4,44.4],[113.5,44.8],[116,45.7],[117.4,46.6],[119.7,46.7],[119.9,47.4],[117.5,47.7],[115.6,47.9],[116.7,49.8],[117.9,49.5],[119.3,50.3],[120.2,51.9],[122,53.3],[125,53.2],[126.6,52.8],[127.6,49.8],[130.6,48.9],[132.5,47.8],[134.7,48.3],[135.1,48.4],[133.1,45.1],[131.9,45.3],[131,44.9],[131.3,43],[130.6,42.4],[129.6,42.4],[128,42],[126.6,41.7],[124.3,40],[123.5,39],[122.5,37.8],[123,37],[121,34.5],[123,31],[122.5,29],[121,26],[119,24],[116,22],[113,21.3]];
var KOR=[[126.1,37.7],[127,38.3],[128.4,38.6],[130,38.5],[130,34.5],[128,33.5],[126,33],[125,34.5],[125.5,37]];
var ZAF=[[32.9,-26.85],[34,-27],[34,-36],[15,-36],[16.5,-28.6],[17.5,-28.7],[19.9,-28.5],[20,-24.8],[20.8,-26.5],[22.5,-25.8],[24,-25.5],[25.8,-25.3],[27,-23.6],[29.4,-22.2],[31.3,-22.4],[32,-24.5],[32,-26.3]];
var TUN=[[7.5,37.5],[11.5,37.5],[12,35],[11.5,33],[10,31.5],[9.3,30.2],[8.4,32.5],[7.6,33.5],[8.3,34.6],[8.4,36.3],[8.6,36.9]];
var MYSB=[[108.5,1.5],[109.6,2],[110.5,1.1],[111.5,1],[112.5,1.5],[114,1.4],[114.6,2.2],[115.5,3.8],[116,4.3],[117.6,4.2],[119.5,5],[117,8],[113,6],[109,3]];
var NGW=[[130,0],[141,-2.5],[141,-9.3],[137,-9.5],[130,-5]];
var BLK=[[27.6,42.0],[28.0,43.3],[28.6,44.3],[29.6,45.3],[30.7,46.5],[31.7,46.6],[33.0,46.1],[32.5,45.4],[33.6,44.5],[35.4,45.0],[36.6,45.3],[35.5,45.4],[35.0,45.7],[35.0,46.3],[37.4,47.1],[39.2,47.1],[38.0,46.0],[37.7,45.3],[37.3,45.0],[37.5,44.9],[38.5,44.3],[40.0,43.4],[41.6,41.6],[41.4,41.3],[39.5,41.0],[37.6,41.1],[36.0,41.7],[34.8,42.0],[33.3,42.0],[31.2,41.1],[29.1,41.2],[28.0,41.6]];
var CAS=[[49.5,46.5],[51.2,47.1],[53,46.9],[53.1,45.3],[51.3,45.2],[51.3,44.5],[52.7,42.7],[52.9,41.8],[54.2,42.3],[54.8,41],[53.8,40.6],[53,39.3],[53.9,37.3],[51.8,36.7],[50.2,37.4],[49,38.3],[49.5,40.3],[50.3,40.3],[49.2,41.4],[48.4,42],[47.5,43],[47.4,44.5],[46.7,44.7],[47.5,45.6],[48.7,46]];

var GRAY='#dfdfdf',PINK='#ee8ce6',TEAL='#66c8cc',PUR='#8c8cff',YEL='#ffd500';
var landList=[[NA],[GRL],[ICE],[SA,1],[AFR],[MAD],[EUR],[GB],[IRL],[HAI],[CYP],[NG],[AUS],[ANT]];
CANISL.forEach(function(p){landList.push([p]);});
SMALL.forEach(function(p){landList.push([p]);});
JPN.forEach(function(p){landList.push([p]);});
IDN.forEach(function(p){landList.push([p]);});
var g='',c='';
landList.forEach(function(l){var dd=D(l[0],l[1]);g+='<path d="'+dd+'"/>';c+='<path d="'+dd+'"/>';});
document.getElementById('gland').innerHTML=g;
document.getElementById('land').innerHTML=c;

var ov=[[EU,PINK],[NOR,GRAY],[SUI,GRAY],[BOS,YEL],[NI,TEAL],[GB,TEAL],[CAN,PINK],[MEX,PINK],[BRA,YEL,1],[KAZ,YEL],[SEA,YEL],[VNM,TEAL],[CHN,PUR],[HAI,PUR],[KOR,YEL],[ZAF,YEL],[TUN,YEL],[CYP,PINK]];
CANISL.forEach(function(p){ov.push([p,PINK]);});
JPN.forEach(function(p){ov.push([p,YEL]);});
IDN.forEach(function(p){ov.push([p,TEAL]);});
ov.push([MYSB,YEL]);ov.push([NGW,TEAL]);
var o='';
ov.forEach(function(l){o+='<path fill="'+l[1]+'" d="'+D(l[0],l[2])+'"/>';});
document.getElementById('gover').innerHTML=o;
document.getElementById('gwater').innerHTML='<path d="'+D(BLK)+'"/><path d="'+D(CAS)+'"/>';
})();
</script>
</body></html>
